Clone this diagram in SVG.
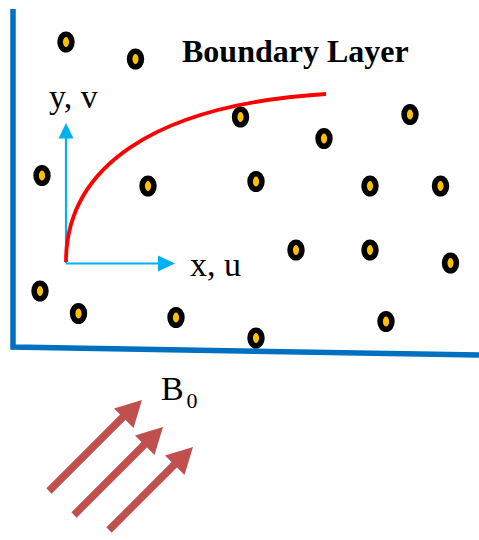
<svg xmlns="http://www.w3.org/2000/svg" width="479" height="540" viewBox="0 0 479 540">
<style>
.dot{fill:#FFC000;stroke:#000;stroke-width:5.6}
.txt{font-family:"Liberation Serif","Times New Roman",serif;fill:#000}
.axis{stroke:#00B0F0;stroke-width:2.2;fill:none}
.ahead{fill:#00B0F0}
.field{stroke:#C0504D;stroke-width:7.5;fill:none}
.fhead{fill:#C0504D}
</style>
<rect width="479" height="540" fill="#fff"/>
<g id="wall">
<path d="M13,9 L13,347 L479,355" fill="none" stroke="#0070C0" stroke-width="5.5" stroke-linejoin="miter"/>
</g>
<g id="particles">
<ellipse class="dot" cx="66" cy="42" rx="5.9" ry="7.8"/>
<ellipse class="dot" cx="135.5" cy="59" rx="5.9" ry="7.8"/>
<ellipse class="dot" cx="240.5" cy="117" rx="5.9" ry="7.8"/>
<ellipse class="dot" cx="324" cy="138.5" rx="5.9" ry="7.8"/>
<ellipse class="dot" cx="410" cy="114.5" rx="5.9" ry="7.8"/>
<ellipse class="dot" cx="42" cy="175.5" rx="5.9" ry="7.8"/>
<ellipse class="dot" cx="148" cy="186" rx="5.9" ry="7.8"/>
<ellipse class="dot" cx="256" cy="181.5" rx="5.9" ry="7.8"/>
<ellipse class="dot" cx="370" cy="186" rx="5.9" ry="7.8"/>
<ellipse class="dot" cx="440.5" cy="186" rx="5.9" ry="7.8"/>
<ellipse class="dot" cx="296" cy="250" rx="5.9" ry="7.8"/>
<ellipse class="dot" cx="370" cy="250" rx="5.9" ry="7.8"/>
<ellipse class="dot" cx="450.5" cy="263" rx="5.9" ry="7.8"/>
<ellipse class="dot" cx="40" cy="291" rx="5.9" ry="7.8"/>
<ellipse class="dot" cx="78.5" cy="313.5" rx="5.9" ry="7.8"/>
<ellipse class="dot" cx="176" cy="317.5" rx="5.9" ry="7.8"/>
<ellipse class="dot" cx="256" cy="338" rx="5.9" ry="7.8"/>
<ellipse class="dot" cx="386" cy="321.5" rx="5.9" ry="7.8"/>
</g>
<g id="title">
<text class="txt" x="182" y="62" font-size="32" font-weight="bold">Boundary Layer</text>
</g>
<g id="axes">
<line class="axis" x1="66" y1="263" x2="66" y2="137"/>
<polygon class="ahead" points="66,123 58.5,138.5 73.5,138.5"/>
<line class="axis" x1="66" y1="263.5" x2="160" y2="263.5"/>
<polygon class="ahead" points="175,263.5 158,255.5 158,271.5"/>
<text class="txt" x="49" y="108" font-size="34">y, v</text>
<text class="txt" x="190" y="276" font-size="34">x, u</text>
</g>
<g id="boundary-curve">
<path d="M66,262 C66,170 150,105 326,94" fill="none" stroke="#FF0000" stroke-width="3.8"/>
</g>
<g id="magnetic-field">
<line class="field" x1="49" y1="491" x2="126" y2="414"/>
<polygon class="fhead" points="142,400 133.5,428 114,408.5"/>
<line class="field" x1="74" y1="515" x2="147" y2="442"/>
<polygon class="fhead" points="163,427 154.5,455 135,435.5"/>
<line class="field" x1="109" y1="530" x2="177" y2="462"/>
<polygon class="fhead" points="193,447 184.5,475 165,455.5"/>
<text class="txt" x="161" y="400" font-size="34">B</text>
<text class="txt" x="186.5" y="407.5" font-size="22">0</text>
</g>
</svg>
